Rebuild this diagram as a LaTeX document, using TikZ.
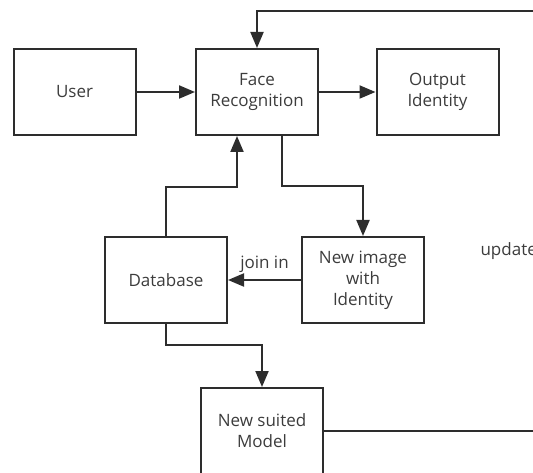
\documentclass[tikz,border=0pt]{standalone}
\usepackage{fontspec}
\setmainfont{Open Sans}
\usetikzlibrary{arrows.meta,positioning}
\definecolor{lineg}{RGB}{45,45,45}
\definecolor{textg}{RGB}{60,60,60}

\begin{document}
\begin{tikzpicture}[x=1pt,y=-1pt,>={Triangle[length=16pt,width=13pt]},
    font=\fontsize{17}{21}\selectfont,text=textg,
    every node/.style={align=center},
    block/.style={draw=lineg,line width=2pt,minimum width=122pt,minimum height=86pt,inner sep=0pt},
    link/.style={draw=lineg,line width=2pt}]
        \useasboundingbox (0,0) rectangle (533,473);
        \clip (0,0) rectangle (533,473);
        \node[block] (user) at (74.5,92) {User};
        \node[block] (face) at (257,92) {Face\\Recognition};
        \node[block] (output) at (437.5,92) {Output\\Identity};
        \node[block] (db) at (166,280) {Database};
        \node[block] (newimg) at (363,280) {New image\\with\\Identity};
        \node[block] (model) at (262,431) {New suited\\Model};
        \coordinate (upd) at (560,11);
        \node[anchor=west] (updlbl) at (477,251) {update};
        \draw[link,->] (user)--(face);
        \draw[link,->] (face)--(output);
        \draw[link,->] ([xshift=25pt]face.south)--++(0,50)-|(newimg.north);
        \draw[link,->] (newimg)--node[above=3pt]{join in}(db);
        \draw[link,->] (db.north)--++(0,-49)-|([xshift=-20pt]face.south);
        \draw[link,->] (db.south)--++(0,21)-|(model.north);
        \draw[link,->] (model.east)-|(upd)-|(face.north);
      \end{tikzpicture}
\end{document}
